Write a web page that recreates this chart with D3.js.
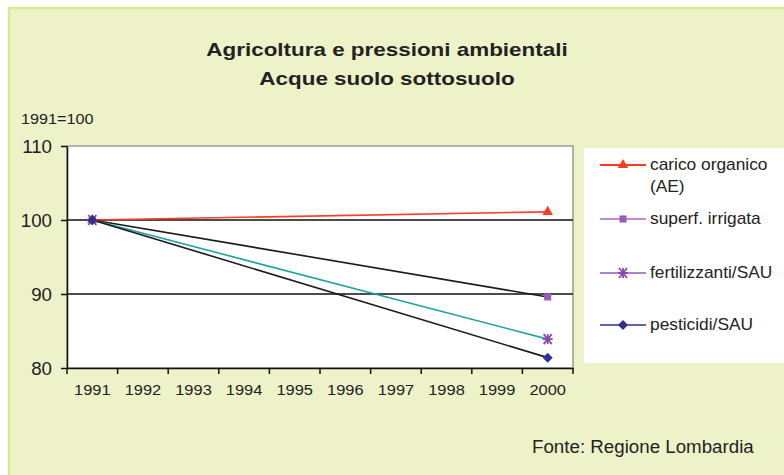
<!DOCTYPE html>
<html>
<head>
<meta charset="utf-8">
<script src="https://cdn.jsdelivr.net/npm/d3@7"></script>
<style>
  body { margin: 0; background: #fff; }
  text { font-family: "Liberation Sans", Arial, sans-serif; fill: #222; }
</style>
</head>
<body>
<svg id="chart"></svg>
<script>
// categories on the x axis
const years = ["1991", "1992", "1993", "1994", "1995", "1996", "1997", "1998", "1999", "2000"];
// only the first and last year are plotted
const pointYears = ["1991", "2000"];
const caricoOrganico = [100, 101.1];
const superfIrrigata = [100, 89.6];
const fertilizzanti = [100, 83.9];
const pesticidi = [100, 81.4];
const seriesNames = ["carico organico (AE)", "superf. irrigata", "fertilizzanti/SAU", "pesticidi/SAU"];
const yTicks = [80, 90, 100, 110];

const width = 784, height = 475;
const plot = {left: 67, right: 573, top: 146, bottom: 368};

// line colour in the plot, legend colour for line and marker
const STYLE = [
    {line: "#ff3b22", legend: "#ff3b22", mark: "#ff3b22", symbol: "triangle"},
    {line: "#1a1a1a", legend: "#a56cc1", mark: "#9a5cb4", symbol: "square"},
    {line: "#1ea39c", legend: "#9b59b6", mark: "#8e44ad", symbol: "asterisk"},
    {line: "#1a1a1a", legend: "#2e3192", mark: "#2e3192", symbol: "diamond"}
];

const series = [caricoOrganico, superfIrrigata, fertilizzanti, pesticidi].map((vals, i) => ({
    name: seriesNames[i],
    style: STYLE[i],
    points: pointYears.map((y, j) => ({year: y, value: vals[j]}))
}));

const svg = d3.select("#chart")
    .attr("width", width)
    .attr("height", height);

// stretch text horizontally to the look of the picture
var stretch = function(sel, k) {
    sel.each(function() {
        const len = this.getComputedTextLength();
        d3.select(this).attr("textLength", len * k).attr("lengthAdjust", "spacingAndGlyphs");
    });
};

// panel
svg.append("rect")
    .attr("x", 9).attr("y", 8)
    .attr("width", width + 10).attr("height", height + 10)
    .attr("fill", "#eef2c8")
    .attr("stroke", "#dbe69b")
    .attr("stroke-width", 2.5);

// title
const title = svg.append("text")
    .attr("x", 387).attr("y", 56)
    .attr("text-anchor", "middle")
    .attr("font-size", 19)
    .attr("font-weight", "bold")
    .text("Agricoltura e pressioni ambientali");
const title2 = svg.append("text")
    .attr("x", 387).attr("y", 85)
    .attr("text-anchor", "middle")
    .attr("font-size", 19)
    .attr("font-weight", "bold")
    .text("Acque suolo sottosuolo");
stretch(title, 1.18);
stretch(title2, 1.18);

const base = svg.append("text")
    .attr("x", 21).attr("y", 124)
    .attr("font-size", 15)
    .text("1991=100");
stretch(base, 1.08);

// scales
const x = d3.scaleBand().domain(years).range([plot.left, plot.right]);
const y = d3.scaleLinear().domain([80, 110]).range([plot.bottom, plot.top]);

// plot area
svg.append("rect")
    .attr("x", plot.left).attr("y", plot.top)
    .attr("width", plot.right - plot.left)
    .attr("height", plot.bottom - plot.top)
    .attr("fill", "#fff")
    .attr("stroke", "#9a9a9a")
    .attr("stroke-width", 1.5);

// gridlines
svg.append("g")
    .selectAll("line")
    .data(yTicks.filter(d => d > 80 && d < 110))
    .enter()
    .append("line")
    .attr("x1", plot.left).attr("x2", plot.right)
    .attr("y1", d => y(d)).attr("y2", d => y(d))
    .attr("stroke", "#111")
    .attr("stroke-width", 1.3);

// y axis
const yAxis = svg.append("g")
    .attr("transform", `translate(${plot.left},0)`)
    .call(d3.axisLeft(y).tickValues(yTicks).tickSize(6).tickSizeOuter(0).tickPadding(9));
yAxis.select(".domain").attr("stroke", "#111").attr("stroke-width", 1.5);
yAxis.selectAll(".tick line").attr("stroke", "#111").attr("stroke-width", 1.5);
yAxis.selectAll("text")
    .attr("font-size", 17.5)
    .attr("fill", "#222")
    .attr("font-family", "Liberation Sans, Arial, sans-serif")
    .attr("dy", "0.36em");
stretch(yAxis.selectAll("text"), 1.07);

// x axis
const xAxis = svg.append("g")
    .attr("transform", `translate(0,${plot.bottom})`)
    .call(d3.axisBottom(x).tickSize(0).tickSizeOuter(0).tickPadding(16));
xAxis.select(".domain").attr("stroke", "#111").attr("stroke-width", 1.5);
xAxis.selectAll("text")
    .attr("font-size", 15.5)
    .attr("fill", "#222")
    .attr("font-family", "Liberation Sans, Arial, sans-serif");
stretch(xAxis.selectAll("text"), 1.06);
xAxis.selectAll(".edge")
    .data(years.map(d => x(d)).concat([x.range()[1]]))
    .enter()
    .append("line")
    .attr("class", "edge")
    .attr("x1", d => d).attr("x2", d => d)
    .attr("y1", 0).attr("y2", 6)
    .attr("stroke", "#111")
    .attr("stroke-width", 1.5);

const cx = d => x(d) + x.bandwidth() / 2;

const line = d3.line()
    .x(d => cx(d.year))
    .y(d => y(d.value));

// series lines
svg.append("g")
    .selectAll("path")
    .data(series)
    .enter()
    .append("path")
    .attr("d", d => line(d.points))
    .attr("fill", "none")
    .attr("stroke", d => d.style.line)
    .attr("stroke-width", 1.6);

var drawMarker = function(g, symbol, color) {
    if (symbol === "asterisk") {
        const r = 5;
        [[-r, 0, r, 0], [-r * 0.8, -r, r * 0.8, r], [-r * 0.8, r, r * 0.8, -r], [0, -r, 0, r]]
            .forEach(s => g.append("line")
                .attr("x1", s[0]).attr("y1", s[1]).attr("x2", s[2]).attr("y2", s[3])
                .attr("stroke", color).attr("stroke-width", 1.8));
        return;
    }
    if (symbol === "diamond") {
        g.append("path")
            .attr("d", d3.symbol().type(d3.symbolSquare).size(50)())
            .attr("transform", "rotate(45)")
            .attr("fill", color);
        return;
    }
    const types = {triangle: d3.symbolTriangle, square: d3.symbolSquare};
    const sizes = {triangle: 48, square: 50};
    g.append("path")
        .attr("d", d3.symbol().type(types[symbol]).size(sizes[symbol])())
        .attr("fill", color);
};

// markers
series.forEach(s => {
    s.points.forEach(p => {
        const g = svg.append("g").attr("transform", `translate(${cx(p.year)},${y(p.value)})`);
        drawMarker(g, s.style.symbol, s.style.mark);
    });
});

// legend
const legend = svg.append("g");
legend.append("rect")
    .attr("x", 584).attr("y", 148)
    .attr("width", 220).attr("height", 215)
    .attr("fill", "#fff");

const legendRows = [165, 219, 273, 325];
series.forEach((s, i) => {
    const ly = legendRows[i];
    const g = legend.append("g");
    g.append("line")
        .attr("x1", 600).attr("x2", 646)
        .attr("y1", ly).attr("y2", ly)
        .attr("stroke", s.style.legend)
        .attr("stroke-width", i === 0 ? 2.2 : 1.6);
    drawMarker(g.append("g").attr("transform", `translate(623,${ly})`), s.style.symbol, s.style.mark);
    const words = i === 0 ? ["carico organico", "(AE)"] : [s.name];
    words.forEach((w, j) => {
        const t = g.append("text")
            .attr("x", 650).attr("y", ly + 5 + j * 22)
            .attr("font-size", 16.2)
            .text(w);
        stretch(t, 1.07);
    });
});

// source
const src = svg.append("text")
    .attr("x", 532).attr("y", 453)
    .attr("font-size", 17.5)
    .text("Fonte: Regione Lombardia");
stretch(src, 1.07);
</script>
</body>
</html>
